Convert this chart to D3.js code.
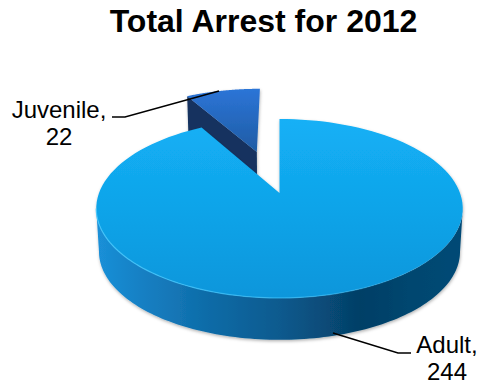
<!DOCTYPE html>
<html><head><meta charset="utf-8">
<script src="https://cdn.jsdelivr.net/npm/d3@7/dist/d3.min.js"></script>
<style>html,body{margin:0;padding:0;background:#fff}svg{display:block}text{font-family:"Liberation Sans",Arial,sans-serif;fill:#000}</style>
</head><body><svg id="c" width="480" height="385"></svg>
<script>
const categories = ["Adult", "Juvenile"];
const values = [244, 22];
const title = "Total Arrest for 2012";

const W = 480, H = 385;
const svg = d3.select("#c");
const cx = 279.5, cy = 193, X = 180.5, Y = 86.8, k = 0.173, depth = 43.4, bs = 0.985;
const explode = [0, 0.533];

function proj(theta, r, e, down) {
  const u = r * Math.sin(theta) + e * Math.sin(explodeMid);
  const v = -r * Math.cos(theta) - e * Math.cos(explodeMid);
  const d = 1 - k * v, s = down ? bs : 1;
  return [cx + s * X * u / d, cy + (down ? depth : 0) + s * Y * v / d];
}
const arcs = d3.pie().sort(null).value(d => d)(values);
const explodeMid = (arcs[1].startAngle + arcs[1].endAngle) / 2;
const samples = (a, b, n = 120) => d3.range(n + 1).map(i => a + (b - a) * i / n);
const line = d3.line();

const defs = svg.append("defs");
function grad(id, x1, y1, x2, y2, stops) {
  const g = defs.append("linearGradient").attr("id", id).attr("gradientUnits", "userSpaceOnUse")
    .attr("x1", x1).attr("y1", y1).attr("x2", x2).attr("y2", y2);
  stops.forEach(s => {
    const st = g.append("stop").attr("offset", s[0]).attr("stop-color", s[1]);
    if (s.length > 2) st.attr("stop-opacity", s[2]);
  });
}
grad("top", 0, 119, 0, 298, [[0, "#13b0f6"], [0.5, "#10a4e9"], [1, "#0c96db"]]);
grad("side", 97, 0, 463, 0, [[0, "#1a90d8"], [0.12, "#1680c4"], [0.3, "#0f6ca8"], [0.5, "#0a5a8e"], [0.72, "#053f66"], [0.85, "#05466f"], [1, "#064a76"]]);
grad("juv", 0, 90, 0, 152, [[0, "#2c74d6"], [1, "#1e5ca4"]]);
grad("hl", 97, 0, 463, 0, [[0, "#45c6fb", 0.9], [0.6, "#35bdf9", 0.7], [0.85, "#35bdf9", 0.15], [1, "#35bdf9", 0]]);
const f = defs.append("filter").attr("id", "sh").attr("x", "-10%").attr("y", "-10%").attr("width", "120%").attr("height", "125%");
f.append("feDropShadow").attr("dx", 0.5).attr("dy", 1.5).attr("stdDeviation", 1.6).attr("flood-color", "#000").attr("flood-opacity", 0.3);

function face(arc, e, down) {
  const pts = samples(arc.startAngle, arc.endAngle).map(t => proj(t, 1, e, down));
  pts.push(proj(0, 0, e, down));
  return line(pts) + "Z";
}

// Juvenile slice (exploded)
const jArc = arcs[1], e = explode[1];
const jg = svg.append("g").attr("filter", "url(#sh)");
jg.append("path").attr("d", () => {
  const a = jArc.startAngle;
  const pts = [proj(a, 1, e, false), proj(0, 0, e, false), proj(0, 0, e, true), proj(a, 1, e, true)];
  return line(pts) + "Z";
}).attr("fill", "#12305f");
jg.append("path").attr("d", face(jArc, e, false)).attr("fill", "url(#juv)");

// Adult slice
const aArc = arcs[0];
const ag = svg.append("g").attr("filter", "url(#sh)");
const sideAngles = samples(100 * Math.PI / 180, 260 * Math.PI / 180);
ag.append("path").attr("d", line(sideAngles.map(t => proj(t, 1, 0, false))
    .concat(sideAngles.slice().reverse().map(t => proj(t, 1, 0, true)))) + "Z")
  .attr("fill", "url(#side)");
ag.append("path").attr("d", face(aArc, 0, false)).attr("fill", "url(#top)");
svg.append("path").attr("d", line(sideAngles.map(t => proj(t, 1, 0, false))))
  .attr("fill", "none").attr("stroke", "url(#hl)").attr("stroke-width", 1.2);

// Leader lines
const leaders = [[[112, 117], [125, 117], [219, 91]], [[333, 333], [398, 353], [411, 353]]];
leaders.forEach(l => svg.append("path").attr("d", line(l)).attr("fill", "none").attr("stroke", "#000").attr("stroke-width", 1.4));

// Text
svg.append("text").attr("x", 263.5).attr("y", 32).attr("text-anchor", "middle")
  .attr("font-size", 32).attr("font-weight", "bold").text(title);
const labelPos = [[447, 353], [59, 118]];
categories.forEach((c, i) => {
  const t = svg.append("text").attr("text-anchor", "middle").attr("font-size", 24);
  t.append("tspan").attr("x", labelPos[i][0]).attr("y", labelPos[i][1]).text(c + ",");
  t.append("tspan").attr("x", labelPos[i][0]).attr("y", labelPos[i][1] + 27).text(values[i]);
});
</script></body></html>
